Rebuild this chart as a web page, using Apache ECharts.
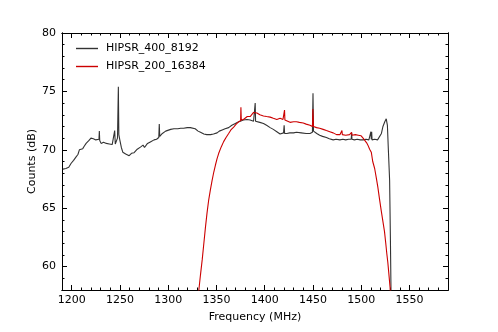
<!doctype html>
<html lang="en">
<head>
<meta charset="UTF-8">
<title>HIPSR spectra</title>
<script src="https://cdn.jsdelivr.net/npm/echarts@6/dist/echarts.min.js"></script>
<style>
  html, body { margin: 0; padding: 0; background: #fff; }
  #main { width: 498px; height: 332px; }
</style>
</head>
<body>
<div id="main"></div>
<script>
// HIPSR_400_8192 (frequency MHz, counts dB)
var freq400 = [1191, 1194, 1197, 1199.5, 1202, 1204.6, 1206.5, 1208, 1211.5, 1213, 1215, 1218, 1220, 1222.5, 1225, 1227,
  1228.3, 1228.7, 1229.1, 1230.5, 1233, 1236, 1239, 1242, 1244, 1244.6, 1245.2, 1246.5, 1247.5, 1248.4, 1248.9, 1250,
  1251.5, 1253, 1256, 1259.6, 1262, 1264.7, 1268, 1271.6, 1274, 1275.5, 1278.6, 1282, 1285.4, 1288, 1290.3, 1290.8,
  1291.3, 1294, 1297.4, 1302.6, 1306, 1310, 1313, 1316, 1319.8, 1323, 1325, 1328, 1331, 1333.5, 1337, 1340, 1344, 1347,
  1350.7, 1353, 1356, 1359, 1362.7, 1366, 1369.6, 1372, 1374.8, 1378, 1381.7, 1385, 1388.5, 1389.8, 1390.2, 1390.6, 1392,
  1395, 1398.8, 1402, 1405.7, 1409, 1412.6, 1416, 1419.6, 1420.2, 1420.7, 1423, 1426, 1430, 1433, 1435, 1438, 1440, 1443,
  1447, 1449.5, 1450.1, 1450.6, 1452, 1454, 1457, 1460, 1464, 1467, 1471, 1474, 1478, 1481, 1484, 1487, 1489.7, 1490.1,
  1490.5, 1493, 1496, 1499, 1502, 1505, 1508, 1509.8, 1510.1, 1510.5, 1510.9, 1511.3, 1514, 1517, 1519, 1521, 1522.6,
  1524.5, 1526, 1527.2, 1528.2, 1529.5, 1530.3, 1531];
var db400 = [68.35, 68.4, 68.5, 68.85, 69.1, 69.4, 69.6, 70.0, 70.1, 70.3, 70.55, 70.8, 71.0, 70.95, 70.85, 70.9,
  70.9, 71.6, 70.8, 70.55, 70.65, 70.55, 70.5, 70.45, 70.4, 71.65, 70.5, 70.5, 71.0, 75.4, 71.3, 70.8,
  70.2, 69.8, 69.65, 69.5, 69.7, 69.75, 70.05, 70.25, 70.4, 70.2, 70.55, 70.7, 70.85, 70.9, 71.05, 72.2,
  71.15, 71.4, 71.6, 71.75, 71.8, 71.8, 71.85, 71.85, 71.9, 71.9, 72.0, 71.8, 71.6, 71.5, 71.35, 71.3, 71.3, 71.35,
  71.45, 71.6, 71.7, 71.8, 71.9, 72.1, 72.25, 72.35, 72.45, 72.55, 72.6, 72.55, 72.45, 72.5, 74.0, 72.45, 72.4,
  72.35, 72.25, 72.1, 71.9, 71.75, 71.55, 71.35, 71.45, 72.1, 71.4, 71.4, 71.45, 71.45, 71.5, 71.55, 71.45, 71.35, 71.4,
  71.4, 71.5, 74.85, 71.6, 71.55, 71.4, 71.25, 71.15, 71.05, 70.95, 70.85, 70.9, 70.85, 70.9, 70.85, 70.9, 70.9, 71.45,
  70.9, 70.85, 70.9, 70.85, 70.85, 70.9, 70.85, 70.9, 71.55, 70.9, 71.55, 70.85, 70.9, 70.85, 70.9, 71.4, 72.0,
  72.4, 72.65, 72.1, 70.0, 67.4, 62.5, 57.5];

// HIPSR_200_16384
var freq200 = [1329, 1331.8, 1333.5, 1335.3, 1337, 1338.7, 1340.3, 1342, 1343.8, 1345.6, 1347.3, 1349, 1350.7, 1352.4,
  1355, 1357.5, 1360, 1362.7, 1365, 1367.9, 1370.5, 1373, 1375.1, 1375.4, 1375.8, 1378, 1380, 1382, 1385, 1388.5, 1390,
  1392, 1395, 1398.8, 1402, 1405.7, 1409, 1412.6, 1416, 1419, 1420.3, 1420.6, 1421, 1423, 1426.3, 1430, 1433, 1436, 1440,
  1443, 1447, 1449.5, 1450.0, 1450.6, 1453.8, 1457, 1460.6, 1464, 1467.5, 1471, 1474.5, 1478, 1479.7, 1480.1, 1480.5,
  1484, 1488, 1489.7, 1490.1, 1490.5, 1494, 1497, 1500, 1502, 1503.6, 1505.7, 1507, 1508.8, 1510.5, 1512, 1514, 1515.7,
  1517.3, 1519, 1520.8, 1522.5, 1524.2, 1525.5, 1526.6, 1527.6, 1528.7, 1530, 1531];
var db200 = [55.5, 58.0, 59.3, 60.6, 62.0, 63.4, 64.6, 65.7, 66.6, 67.4, 68.1, 68.7, 69.25, 69.7,
  70.25, 70.7, 71.05, 71.4, 71.7, 71.95, 72.2, 72.4, 72.5, 73.65, 72.55, 72.6, 72.7, 72.85, 72.85, 73.2, 73.15,
  73.15, 73.0, 72.9, 72.85, 72.8, 72.7, 72.6, 72.7, 72.6, 72.6, 73.4, 72.55, 72.55, 72.35, 72.4, 72.4, 72.35, 72.3,
  72.2, 72.1, 72.0, 73.5, 72.0, 71.9, 71.85, 71.75, 71.65, 71.55, 71.45, 71.3, 71.3, 71.3, 71.65, 71.3,
  71.25, 71.3, 71.25, 71.5, 71.25, 71.3, 71.25, 71.2, 71.0, 70.85, 70.6, 70.4, 70.05, 69.8, 69.0, 68.4, 67.6,
  66.8, 65.8, 64.8, 63.9, 63.0, 62.0, 61.1, 60.4, 59.4, 58.2, 56.5];

var xTicks = [1200, 1250, 1300, 1350, 1400, 1450, 1500, 1550];
var yTicks = [60, 65, 70, 75, 80];

function pairs(xs, ys) {
  var out = [];
  for (var i = 0; i < xs.length; i++) out.push([xs[i], ys[i]]);
  return out;
}

var font = 'DejaVu Sans';
var chart = echarts.init(document.getElementById('main'), null, { renderer: 'canvas' });

function plain(v) { return String(v); }

// ticks on all four sides, pointing in (minor = every 10 MHz / 1 dB)
function xAx(pos, major, labels) {
  var ax = {
    type: 'value', position: pos, min: 1190, max: 1590,
    axisLine: { show: true, onZero: false, lineStyle: { color: '#000', width: 1 } },
    splitLine: { show: false },
    axisTick: { show: true, inside: true, length: major ? 5 : 2.5, lineStyle: { color: '#000' } },
    axisLabel: { show: false }
  };
  if (major) {
    ax.axisTick.customValues = xTicks;
    ax.axisLabel = labels ? { show: true, customValues: xTicks, formatter: plain, color: '#000', fontFamily: font, fontSize: 11, margin: 5 } : { show: false };
  } else {
    ax.interval = 10;
  }
  if (labels) {
    ax.name = 'Frequency (MHz)';
    ax.nameLocation = 'middle';
    ax.nameGap = 22;
    ax.nameMoveOverlap = false;
    ax.nameTextStyle = { color: '#000', fontFamily: font, fontSize: 11 };
  }
  return ax;
}
function yAx(pos, major, labels) {
  var ax = {
    type: 'value', position: pos, min: 58, max: 80,
    axisLine: { show: true, onZero: false, lineStyle: { color: '#000', width: 1 } },
    splitLine: { show: false },
    axisTick: { show: true, inside: true, length: major ? 5 : 2.5, lineStyle: { color: '#000' } },
    axisLabel: { show: false }
  };
  if (major) {
    ax.axisTick.customValues = yTicks;
    ax.axisLabel = labels ? { show: true, customValues: yTicks, formatter: plain, color: '#000', fontFamily: font, fontSize: 11, margin: 6 } : { show: false };
  } else {
    ax.interval = 1;
  }
  if (labels) {
    ax.name = 'Counts (dB)';
    ax.nameLocation = 'middle';
    ax.nameGap = 24;
    ax.nameMoveOverlap = false;
    ax.nameTextStyle = { color: '#000', fontFamily: font, fontSize: 11 };
  }
  return ax;
}

chart.setOption({
  animation: false,
  backgroundColor: '#fff',
  grid: { left: 62, right: 50, top: 33, bottom: 42, containLabel: false },
  legend: {
    left: 71, top: 38, orient: 'vertical',
    itemWidth: 22, itemHeight: 1.4, itemGap: 7,
    textStyle: { color: '#000', fontFamily: font, fontSize: 11, padding: [0, 0, 0, 3] },
    data: [{ name: 'HIPSR_400_8192', icon: 'rect' }, { name: 'HIPSR_200_16384', icon: 'rect' }]
  },
  xAxis: [xAx('bottom', true, true), xAx('bottom', false, false), xAx('top', true, false), xAx('top', false, false)],
  yAxis: [yAx('left', true, true), yAx('left', false, false), yAx('right', true, false), yAx('right', false, false)],
  series: [
    {
      name: 'HIPSR_400_8192', type: 'line', xAxisIndex: 0, yAxisIndex: 0,
      symbol: 'none', clip: true,
      lineStyle: { color: '#333333', width: 1.1 }, itemStyle: { color: '#333333' },
      data: pairs(freq400, db400)
    },
    {
      name: 'HIPSR_200_16384', type: 'line', xAxisIndex: 0, yAxisIndex: 0,
      symbol: 'none', clip: true,
      lineStyle: { color: '#cc0000', width: 1.1 }, itemStyle: { color: '#cc0000' },
      data: pairs(freq200, db200)
    }
  ]
});
</script>
</body>
</html>
